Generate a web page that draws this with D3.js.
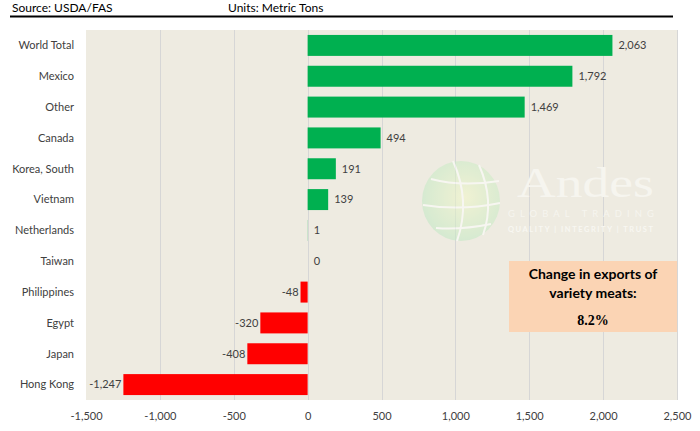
<!DOCTYPE html>
<html><head><meta charset="utf-8">
<script src="https://cdn.jsdelivr.net/npm/d3@7"></script>
<style>body{margin:0;background:#fff}svg{display:block;font-family:Lato,"Open Sans",sans-serif}</style>
</head><body>
<svg id="c" width="700" height="431"></svg>
<script>
const categories = ["World Total","Mexico","Other","Canada","Korea, South","Vietnam","Netherlands","Taiwan","Philippines","Egypt","Japan","Hong Kong"];
const values = [2063,1792,1469,494,191,139,1,0,-48,-320,-408,-1247];
const tickValues = [-1500,-1000,-500,0,500,1000,1500,2000,2500];
const annotationLines = ["Change in exports of","variety meats:"];
const annotationValue = "8.2%";

const fmt = d => d3.format(",")(d).replace("\u2212","-");
const svg = d3.select("#c");
const L=86,R=677,T=30,B=400;
const x = d3.scaleLinear().domain([-1500,2500]).range([L,R]);
const y = d3.scaleBand().domain(categories).range([T,B]).paddingInner(0.32).paddingOuter(0.16);

// header
svg.append("text").attr("x",12).attr("y",12).attr("font-size",12).attr("fill","#000").text("Source: USDA/FAS");
svg.append("text").attr("x",228).attr("y",12).attr("font-size",12).attr("fill","#000").text("Units: Metric Tons");
svg.append("line").attr("x1",10).attr("x2",673).attr("y1",16.5).attr("y2",16.5).attr("stroke","#000").attr("stroke-width",2);

// plot bg
svg.append("rect").attr("x",L).attr("y",T).attr("width",R-L).attr("height",B-T).attr("fill","#EEEBE1");

// grid
svg.append("g").selectAll("line").data(tickValues.filter(d=>d!==-1500)).join("line")
  .attr("x1",d=>Math.round(x(d))+0.5).attr("x2",d=>Math.round(x(d))+0.5).attr("y1",T).attr("y2",B)
  .attr("stroke","#D6D6D6").attr("stroke-width",1);

// watermark
const wm = svg.append("g").attr("opacity",0.55);
const gx=461,gy=201;
const grad = svg.append("defs").append("radialGradient").attr("id","gg").attr("cx","55%").attr("cy","45%").attr("r","60%");
grad.append("stop").attr("offset","0%").attr("stop-color","#F3F8C8");
grad.append("stop").attr("offset","100%").attr("stop-color","#BEE8C4");
wm.append("ellipse").attr("cx",gx).attr("cy",gy).attr("rx",39).attr("ry",40).attr("fill","url(#gg)");
wm.append("path").attr("d",`M${gx-30},${gy-22} Q${gx},${gy-14} ${gx+38},${gy-20}`).attr("stroke","#fff").attr("fill","none").attr("stroke-width",2);
wm.append("path").attr("d",`M${gx-38},${gy+4} Q${gx},${gy+10} ${gx+39},${gy+2}`).attr("stroke","#fff").attr("fill","none").attr("stroke-width",2);
wm.append("path").attr("d",`M${gx-25},${gy+27} Q${gx},${gy+29} ${gx+30},${gy+23}`).attr("stroke","#fff").attr("fill","none").attr("stroke-width",2);
wm.append("path").attr("d",`M${gx-8},${gy-40} Q${gx+10},${gy} ${gx-4},${gy+40}`).attr("stroke","#fff").attr("fill","none").attr("stroke-width",2);
wm.append("path").attr("d",`M${gx+18},${gy-36} Q${gx+34},${gy} ${gx+22},${gy+34}`).attr("stroke","#fff").attr("fill","none").attr("stroke-width",2);
svg.append("text").attr("x",517).attr("y",197).style("font-family","'Liberation Serif',serif").attr("font-size",42).attr("textLength",137).attr("lengthAdjust","spacingAndGlyphs").attr("fill","#F6F5EF").text("Andes");
svg.append("text").attr("x",508).attr("y",217).attr("font-size",9.5).attr("textLength",146).attr("fill","#F6F5EF").text("GLOBAL TRADING");
svg.append("text").attr("x",508).attr("y",232).attr("font-size",7.5).attr("font-weight","bold").attr("textLength",145).attr("fill","#F8F7F2").text("QUALITY | INTEGRITY | TRUST");

// bars
svg.append("g").selectAll("rect").data(values).join("rect")
  .attr("x",d=>x(Math.min(0,d))).attr("width",d=>Math.abs(x(d)-x(0)))
  .attr("y",(d,i)=>y(categories[i])).attr("height",y.bandwidth())
  .attr("fill",d=>d>=0?"#00B050":"#FF0000");

// value labels
svg.append("g").selectAll("text").data(values).join("text")
  .attr("x",d=>d>=0?x(d)+6:x(d)-2).attr("text-anchor",d=>d>=0?"start":"end")
  .attr("y",(d,i)=>y(categories[i])+y.bandwidth()/2).attr("dy","0.35em")
  .attr("font-size",11).attr("fill","#404040").text(fmt);

// category labels
svg.append("g").selectAll("text").data(categories).join("text")
  .attr("x",L-12).attr("text-anchor","end").attr("y",d=>y(d)+y.bandwidth()/2).attr("dy","0.35em")
  .attr("font-size",11).attr("fill","#404040").text(d=>d);

// x axis
const ax = svg.append("g").attr("transform",`translate(0,${B})`).call(d3.axisBottom(x).tickValues(tickValues).tickFormat(fmt).tickSize(0).tickPadding(12));
ax.select(".domain").remove();
ax.selectAll("text").attr("font-size",11).attr("fill","#404040").style("font-family","Lato,'Open Sans',sans-serif");

// annotation
svg.append("rect").attr("x",509).attr("y",261).attr("width",168).attr("height",71).attr("fill","#FBD4B4");
svg.append("g").selectAll("text").data(annotationLines).join("text")
  .attr("x",593).attr("y",(d,i)=>279+i*19).attr("text-anchor","middle").attr("font-size",14).attr("font-weight","bold").attr("fill","#000").text(d=>d);
svg.append("text").attr("x",593).attr("y",325).attr("text-anchor","middle").style("font-family","'Liberation Serif','DejaVu Serif',serif").style("font-size","14px").attr("font-weight","bold").attr("fill","#000").text(annotationValue);
</script>
</body></html>
